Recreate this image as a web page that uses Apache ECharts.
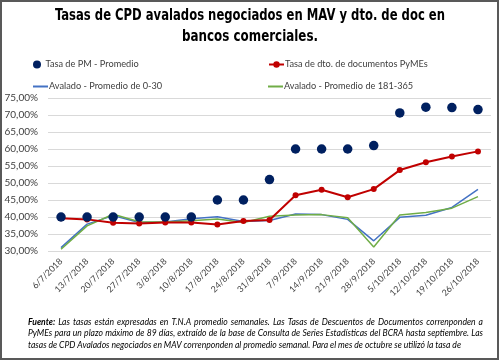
<!DOCTYPE html>
<html><head><meta charset="utf-8">
<script src="https://cdn.jsdelivr.net/npm/echarts@6/dist/echarts.min.js"></script>
<style>html,body{margin:0;padding:0;background:#fff}#c{width:500px;height:362px}</style>
</head><body><div id="c"></div>
<script>
var categories = ['6/7/2018','13/7/2018','20/7/2018','27/7/2018','3/8/2018','10/8/2018','17/8/2018','24/8/2018','31/8/2018','7/9/2018','14/9/2018','21/9/2018','28/9/2018','5/10/2018','12/10/2018','19/10/2018','26/10/2018'];
var tasaPM = [40, 40, 40, 40, 40, 40, 45, 45, 51, 60, 60, 60, 61, 70.6, 72.3, 72.2, 71.6];
var tasaDto = [39.6, 39.3, 38.3, 38.1, 38.4, 38.4, 37.8, 38.8, 39.1, 46.4, 48.0, 45.8, 48.2, 53.8, 56.1, 57.8, 59.3];
var aval030 = [31.0, 37.9, 40.4, 38.4, 38.5, 39.5, 40.1, 38.7, 39.0, 40.9, 40.7, 39.3, 33.0, 39.9, 40.5, 42.8, 48.1];
var aval181 = [30.5, 37.4, 40.8, 38.6, 38.5, 38.9, 39.4, 38.4, 40.2, 40.6, 40.7, 39.8, 31.2, 40.6, 41.3, 42.6, 46.0];
var yTicks = {min: 30, max: 75, interval: 5};
var seriesNames = ['Tasa de PM - Promedio', 'Tasa de dto. de documentos PyMEs', 'Avalado - Promedio de 0-30', 'Avalado - Promedio de 181-365'];
var titleLines = ['Tasas de CPD avalados negociados en MAV y dto. de doc en', 'bancos comerciales.'];
var noteLines = [
  'Fuente: Las tasas están expresadas en T.N.A promedio semanales. Las Tasas de Descuentos de Documentos correnponden a',
  'PyMEs para un plazo máximo de 89 días, extraído de la base de Consulta de Series Estadísticas del BCRA hasta septiembre. Las',
  'tasas de CPD Avalados negociados en MAV correnponden al promedio semanal. Para el mes de octubre se utilizó la tasa de'
];

var chart = echarts.init(document.getElementById('c'));
var lf = 'Lato, "Liberation Sans", sans-serif';
var tf = '"DejaVu Sans Condensed", "DejaVu Sans", sans-serif';
var ctx = document.createElement('canvas').getContext('2d');
function measure(t, font) { ctx.font = font; return ctx.measureText(t).width; }

function leg(name, left, top, plain) {
  return {data: [plain ? {name: name, icon: 'rect'} : name], left: left, top: top,
    itemWidth: 15, itemHeight: plain ? 2 : 8, itemGap: 0,
    textStyle: {fontFamily: lf, fontSize: 9.2, color: '#404040', padding: [0,0,0,-4]}, padding: 0};
}
var graphics = [{type: 'rect', shape: {x: 1, y: 1, width: 497, height: 358}, style: {fill: 'none', stroke: '#595959', lineWidth: 2}, silent: true}];

var titleTargets = [390, 136];
titleLines.forEach(function (t, i) {
  var w = measure(t, 'bold 16.5px ' + tf);
  graphics.push({type: 'text', x: 250, y: 16 + i * 21, scaleX: Math.min(1, titleTargets[i] / w),
    style: {text: t, fontFamily: tf, fontWeight: 'bold', fontSize: 16.5, fill: '#000', textAlign: 'center', textVerticalAlign: 'middle'}});
});

var noteRight = [483, 483, 461];
var nfs = 8.6;
noteLines.forEach(function (line, i) {
  var words = line.split(' ');
  var fonts = words.map(function (w, k) { return (i === 0 && k === 0) ? 'italic bold ' + nfs + 'px Lato' : 'italic ' + nfs + 'px Lato'; });
  var widths = words.map(function (w, k) { return measure(w, fonts[k]); });
  var total = widths.reduce(function (a, b) { return a + b; }, 0);
  var gap = (noteRight[i] - 28 - total) / (words.length - 1);
  var x = 28;
  words.forEach(function (w, k) {
    graphics.push({type: 'text', x: x, y: 322 + i * 11.5,
      style: {text: w, fontFamily: 'Lato', fontStyle: 'italic', fontWeight: (i === 0 && k === 0) ? 'bold' : 'normal',
        fontSize: nfs, fill: '#000', textVerticalAlign: 'middle'}});
    x += widths[k] + gap;
  });
});

chart.setOption({
  animation: false,
  legend: [leg(seriesNames[0], 33, 60), leg(seriesNames[1], 268, 60), leg(seriesNames[2], 33, 82, true), leg(seriesNames[3], 268, 82, true)],
  grid: {left: 48, right: 9, top: 98, bottom: 111, containLabel: false},
  xAxis: {type: 'category', data: categories, boundaryGap: true,
    axisLine: {show: false}, axisTick: {show: false},
    axisLabel: {rotate: 45, interval: 0, fontFamily: lf, fontSize: 8.8, color: '#404040', margin: 9}},
  yAxis: {type: 'value', min: yTicks.min, max: yTicks.max, interval: yTicks.interval,
    axisLine: {show: false}, axisTick: {show: false},
    splitLine: {lineStyle: {color: '#d9d9d9', width: 1}},
    axisLabel: {fontFamily: lf, fontSize: 10, color: '#404040', margin: 10,
      formatter: function (v) { return v.toFixed(2).replace('.', ',') + '%'; }}},
  series: [
    {name: seriesNames[0], type: 'scatter', data: tasaPM, symbol: 'circle', symbolSize: 9.5, itemStyle: {color: '#002060', opacity: 1}, z: 5},
    {name: seriesNames[1], type: 'line', data: tasaDto, symbol: 'circle', symbolSize: 6, showSymbol: true,
      lineStyle: {color: '#C00000', width: 2}, itemStyle: {color: '#C00000'}, z: 4},
    {name: seriesNames[2], type: 'line', data: aval030, showSymbol: false, symbol: 'none',
      lineStyle: {color: '#4472C4', width: 1.5}, itemStyle: {color: '#4472C4'}, z: 3},
    {name: seriesNames[3], type: 'line', data: aval181, showSymbol: false, symbol: 'none',
      lineStyle: {color: '#70AD47', width: 1.5}, itemStyle: {color: '#70AD47'}, z: 3}
  ],
  graphic: graphics
});
</script></body></html>
